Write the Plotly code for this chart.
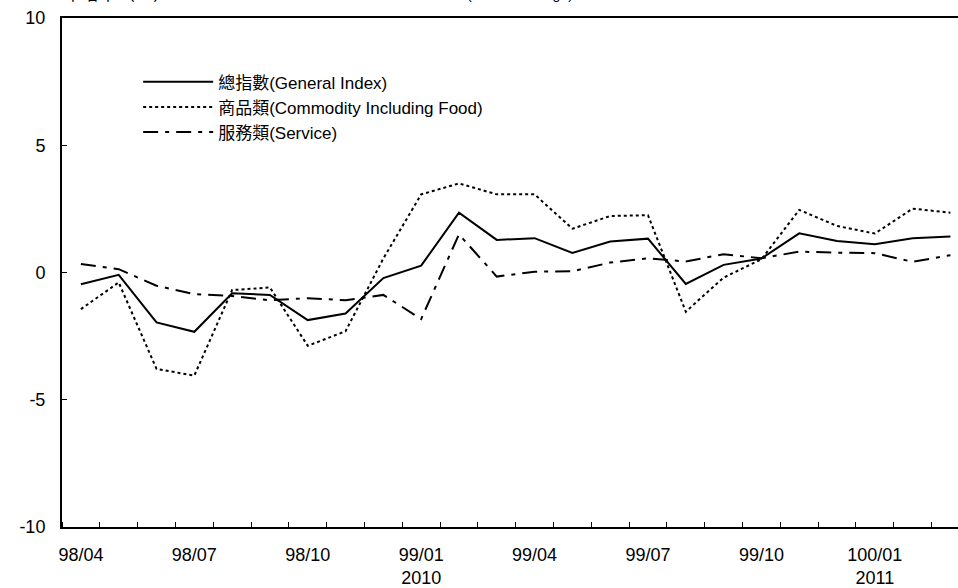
import plotly.graph_objects as go

# 月份 98/04 ~ 100/03 (民國年/月)
MONTHS = [
    "98/04", "98/05", "98/06", "98/07", "98/08", "98/09", "98/10", "98/11", "98/12",
    "99/01", "99/02", "99/03", "99/04", "99/05", "99/06", "99/07", "99/08", "99/09",
    "99/10", "99/11", "99/12", "100/01", "100/02", "100/03",
]
GENERAL = [
    -0.46, -0.09, -1.96, -2.33, -0.82, -0.88, -1.87, -1.61, -0.22, 0.27, 2.35, 1.28,
    1.35, 0.77, 1.22, 1.33, -0.45, 0.30, 0.55, 1.54, 1.24, 1.11, 1.35, 1.41,
]
COMMODITY = [
    -1.44, -0.39, -3.79, -4.05, -0.69, -0.59, -2.88, -2.31, 0.55, 3.07, 3.50, 3.07,
    3.07, 1.72, 2.22, 2.25, -1.54, -0.20, 0.52, 2.46, 1.83, 1.53, 2.51, 2.35,
]
SERVICE = [
    0.33, 0.13, -0.52, -0.85, -0.92, -1.09, -1.01, -1.09, -0.88, -1.83, 1.50, -0.16,
    0.03, 0.05, 0.39, 0.56, 0.43, 0.72, 0.56, 0.82, 0.78, 0.76, 0.42, 0.68,
]
TICK_IDX = [0, 3, 6, 9, 12, 15, 18, 21]
TICK_TEXT = ["98/04", "98/07", "98/10", "99/01<br>2010", "99/04", "99/07", "99/10", "100/01<br>2011"]
Y_TICKS = [-10, -5, 0, 5, 10]
Y_TEXT = ["-10", "-5", "0", "5", "10"]

FONT = "Liberation Sans, Arial, Noto Sans CJK TC, sans-serif"
x = list(range(len(MONTHS)))

fig = go.Figure()
fig.add_trace(go.Scatter(x=x, y=GENERAL, mode="lines", name="總指數(General Index)",
                         line=dict(color="black", width=2), text=MONTHS))
fig.add_trace(go.Scatter(x=x, y=COMMODITY, mode="lines", name="商品類(Commodity Including Food)",
                         line=dict(color="black", width=2, dash="dot"), text=MONTHS))
fig.add_trace(go.Scatter(x=x, y=SERVICE, mode="lines", name="服務類(Service)",
                         line=dict(color="black", width=2, dash="15px,7px,4px,7px"), text=MONTHS))

fig.update_layout(
    width=958, height=588,
    margin=dict(l=62, r=0, t=18, b=61),
    paper_bgcolor="white", plot_bgcolor="white",
    font=dict(family=FONT, size=18, color="black"),
    legend=dict(x=0.085, y=0.909, xanchor="left", yanchor="top", bgcolor="rgba(0,0,0,0)",
                font=dict(size=17), tracegroupgap=0, itemwidth=70),
    showlegend=True,
)
# titles clipped at the top edge of the page, as in the source image
fig.add_annotation(text="年增率（％）", xref="paper", yref="paper", x=-0.001, y=1.0, yshift=24,
                   showarrow=False, xanchor="left", yanchor="middle", font=dict(size=18))
fig.add_annotation(text="(Annual Change)", xref="paper", yref="paper", x=0.573, y=1.0, yshift=24,
                   showarrow=False, xanchor="right", yanchor="middle", font=dict(size=14))

fig.update_xaxes(
    range=[-0.5, 23.2], tickvals=TICK_IDX, ticktext=TICK_TEXT, ticks="",
    showline=True, linecolor="black", linewidth=2, mirror=True,
    showgrid=False, zeroline=False, ticklabelstandoff=10, automargin=False,
    minor=dict(tick0=-0.5, dtick=1, ticks="inside", ticklen=5, tickcolor="black", showgrid=False),
)
fig.update_yaxes(
    range=[-10, 10], tickvals=Y_TICKS, ticktext=Y_TEXT, ticks="inside", ticklen=5, tickcolor="black",
    showline=True, linecolor="black", linewidth=2, mirror=False,
    showgrid=False, zeroline=False, ticklabelstandoff=11, automargin=False,
)

# page body margin would shift the 958x588 figure off the window
fig.write_html("out.html", config={"displayModeBar": False},
               post_script="document.body.style.margin='0';")
